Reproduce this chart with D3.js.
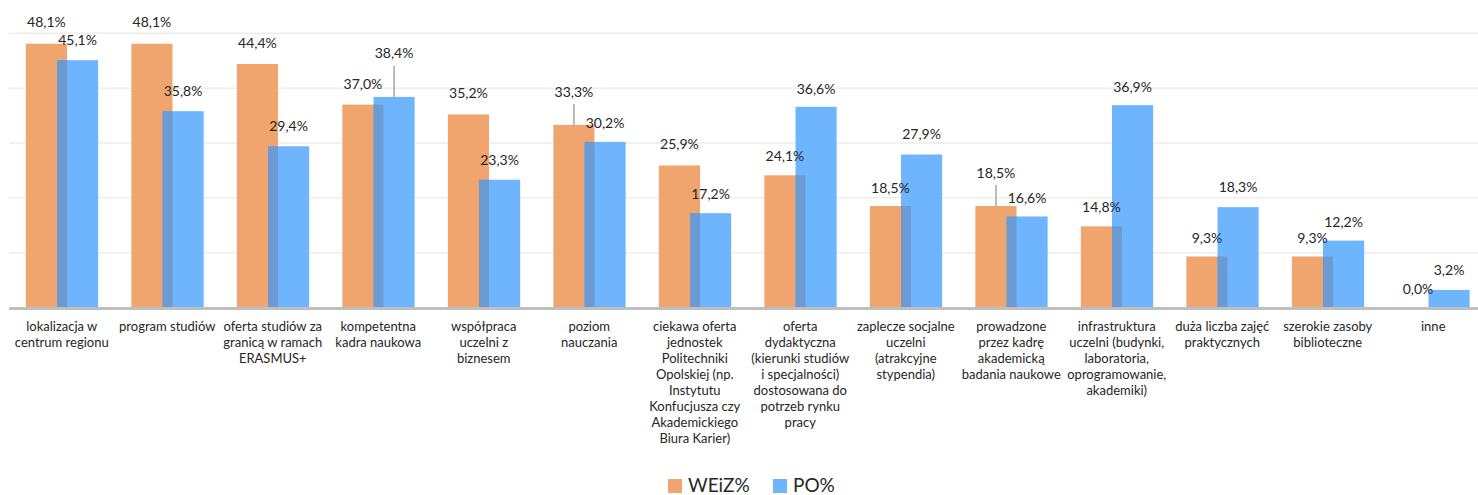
<!DOCTYPE html>
<html><head><meta charset="utf-8">
<script src="https://cdn.jsdelivr.net/npm/d3@7"></script>
<style>body{margin:0;background:#fff;}svg{display:block;font-family:Lato,"Open Sans",sans-serif;}</style>
</head><body>
<script>
const categories = [
  "lokalizacja w\ncentrum regionu",
  "program studiów",
  "oferta studiów za\ngranicą w ramach\nERASMUS+",
  "kompetentna\nkadra naukowa",
  "współpraca\nuczelni z\nbiznesem",
  "poziom\nnauczania",
  "ciekawa oferta\njednostek\nPolitechniki\nOpolskiej (np.\nInstytutu\nKonfucjusza czy\nAkademickiego\nBiura Karier)",
  "oferta\ndydaktyczna\n(kierunki studiów\ni specjalności)\ndostosowana do\npotrzeb rynku\npracy",
  "zaplecze socjalne\nuczelni\n(atrakcyjne\nstypendia)",
  "prowadzone\nprzez kadrę\nakademicką\nbadania naukowe",
  "infrastruktura\nuczelni (budynki,\nlaboratoria,\noprogramowanie,\nakademiki)",
  "duża liczba zajęć\npraktycznych",
  "szerokie zasoby\nbiblioteczne",
  "inne"
];
const seriesNames = ["WEiZ%", "PO%"];
const weiz = [48.1,48.1,44.4,37.0,35.2,33.3,25.9,24.1,18.5,18.5,14.8,9.3,9.3,0.0];
const po   = [45.1,35.8,29.4,38.4,23.3,30.2,17.2,36.6,27.9,16.6,36.9,18.3,12.2,3.2];
const gridTicks = [0,10,20,30,40,50];

// label placement (pixels above bar top)
const weizLift = [22,22,21,20,21,33,21,19,18,33,19,18,18,18];
const poLift   = [20,20,20,44,20,19,19,18,20,18,18,20,18,20];

const W = 1478, H = 495;
const colO = "#f0a46e", colB = "#6fb5fe", colOv = "#6b9bd2";
const svg = d3.select("body").append("svg").attr("width", W).attr("height", H);

const x = d3.scaleBand().domain(categories).range([9, 9 + 14*105.5]).padding(0);
const y = d3.scaleLinear().domain([0, 50]).range([307.5, 33.3]);
const bw = x.bandwidth();
const oL = c => x(c) + bw*0.16, bL = c => x(c) + bw*0.455, barW = bw*0.39;

// gridlines
svg.append("g").selectAll("line").data(gridTicks.filter(t => t > 0)).join("line")
  .attr("x1", 9).attr("x2", W).attr("y1", d => y(d)).attr("y2", d => y(d))
  .attr("stroke", "#ededed").attr("stroke-width", 1.5);

const data = categories.map((c, i) => ({c, w: weiz[i], p: po[i], wl: weizLift[i], pl: poLift[i]}));

// orange bars
svg.append("g").selectAll("rect").data(data).join("rect")
  .attr("x", d => oL(d.c)).attr("width", barW)
  .attr("y", d => y(d.w)).attr("height", d => y(0) - y(d.w)).attr("fill", colO);
// blue bars
svg.append("g").selectAll("rect").data(data).join("rect")
  .attr("x", d => bL(d.c)).attr("width", barW)
  .attr("y", d => y(d.p)).attr("height", d => y(0) - y(d.p)).attr("fill", colB);
// overlap
svg.append("g").selectAll("rect").data(data).join("rect")
  .attr("x", d => bL(d.c)).attr("width", d => Math.max(0, oL(d.c) + barW - bL(d.c)))
  .attr("y", d => y(Math.min(d.w, d.p))).attr("height", d => y(0) - y(Math.min(d.w, d.p))).attr("fill", colOv);

// axis line
svg.append("line").attr("x1", 9).attr("x2", W).attr("y1", 308.5).attr("y2", 308.5)
  .attr("stroke", "#bfbfbf").attr("stroke-width", 3);

const fmt = v => v.toFixed(1).replace(".", ",") + "%";

// leader lines
const leaders = [];
data.forEach(d => {
  if (d.wl > 30) leaders.push({x: oL(d.c) + barW/2, y1: y(d.w) - d.wl + 12, y2: y(d.w)});
  if (d.pl > 30) leaders.push({x: bL(d.c) + barW/2, y1: y(d.p) - d.pl + 13, y2: y(d.p)});
});
svg.append("g").selectAll("line").data(leaders).join("line")
  .attr("x1", d => d.x).attr("x2", d => d.x).attr("y1", d => d.y1).attr("y2", d => d.y2)
  .attr("stroke", "#a6a6a6").attr("stroke-width", 1.5);

// value labels
const lab = svg.append("g").attr("font-size", 14).attr("fill", "#262626").attr("text-anchor", "middle");
lab.selectAll("text.o").data(data).join("text").attr("class", "o")
  .attr("x", d => oL(d.c) + barW/2).attr("y", d => y(d.w) - d.wl).attr("dy", "0.35em").text(d => fmt(d.w));
lab.selectAll("text.b").data(data).join("text").attr("class", "b")
  .attr("x", d => bL(d.c) + barW/2).attr("y", d => y(d.p) - d.pl).attr("dy", "0.35em").text(d => fmt(d.p));

// category labels
const cl = svg.append("g").attr("font-size", 13).attr("fill", "#262626").attr("text-anchor", "middle");
cl.selectAll("text").data(categories).join("text")
  .attr("x", c => x(c) + bw/2).attr("y", 326)
  .each(function(c) {
    const t = d3.select(this);
    c.split("\n").forEach((ln, k) => {
      t.append("tspan").attr("x", x(c) + bw/2).attr("y", 326 + k*16).attr("dy", "0.35em").text(ln);
    });
  });

// legend
const leg = svg.append("g");
const legX = [668, 773];
const legC = [colO, colB];
seriesNames.forEach((n, i) => {
  leg.append("rect").attr("x", legX[i]).attr("y", 479).attr("width", 14).attr("height", 14).attr("fill", legC[i]);
  leg.append("text").attr("x", legX[i] + 20).attr("y", 485).attr("dy", "0.35em")
    .attr("font-size", 19).attr("fill", "#262626").text(n);
});
</script>
</body></html>
